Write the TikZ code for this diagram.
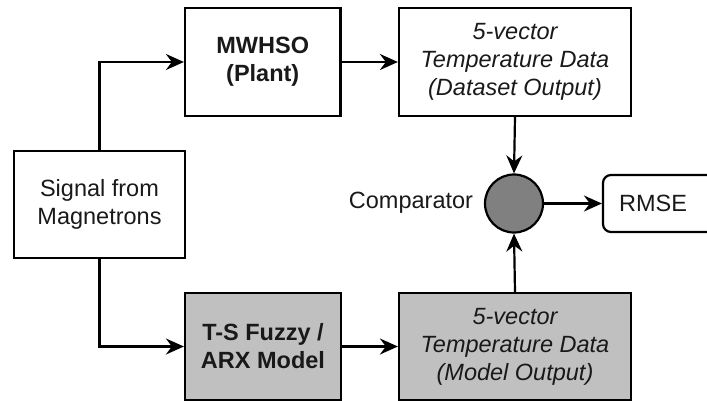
\documentclass[tikz,border=0pt]{standalone}
\usepackage{fontspec}
\setmainfont{Liberation Sans}
\usetikzlibrary{arrows.meta}
\definecolor{boxgray}{RGB}{192,192,192}
\definecolor{circgray}{RGB}{128,128,128}
\begin{document}
\begin{tikzpicture}[x=1pt,y=-1pt,
  every node/.style={font=\fontsize{23.5}{28}\selectfont, text=black!90},
  blk/.style={draw, line width=2.2pt, align=center, inner sep=0pt},
  conn/.style={line width=2.2pt, -{Stealth[length=18pt,width=16pt,inset=6pt]}}]
\useasboundingbox (0,0) rectangle (707,401);
\clip (0,0) rectangle (707,401);
\node[blk, minimum width=171pt, minimum height=107pt] (sig) at (99.5,204.5) {Signal from\\Magnetrons};
\node[blk, minimum width=155.5pt, minimum height=108pt, font=\fontsize{23.5}{28}\selectfont\bfseries] (mw) at (262.75,62) {MWHSO\\(Plant)};
\node[blk, minimum width=232pt, minimum height=108pt, font=\fontsize{23.5}{28}\selectfont\itshape] (ds) at (515,62) {5-vector\\Temperature Data\\(Dataset Output)};
\node[blk, fill=boxgray, minimum width=156pt, minimum height=107pt, font=\fontsize{23.5}{28}\selectfont\bfseries] (ts) at (263,346.5) {T-S Fuzzy /\\ARX Model};
\node[blk, fill=boxgray, minimum width=232pt, minimum height=107pt, font=\fontsize{23.5}{28}\selectfont\itshape] (mo) at (515,346.5) {5-vector\\Temperature Data\\(Model Output)};
\node[draw, line width=2.2pt, circle, fill=circgray, minimum size=58pt, inner sep=0pt] (cmp) at (514,203.5) {};
\node (cmplbl) at (411,203) {Comparator};
\node[blk, rounded corners=8pt, minimum width=130pt, minimum height=57pt] (rmse) at (668,203.5) {};
\node (rmsetxt) at (653,203.5) {RMSE};
\draw[conn] (sig.north) |- (mw.west);
\draw[conn] (sig.south) |- (ts.west);
\draw[conn] (mw.east) -- (ds.west);
\draw[conn] (ts.east) -- (mo.west);
\draw[conn] (ds.south) -- (cmp.north);
\draw[conn] (mo.north) -- (cmp.south);
\draw[conn] (cmp.east) -- (rmse.west);
\end{tikzpicture}
\end{document}
